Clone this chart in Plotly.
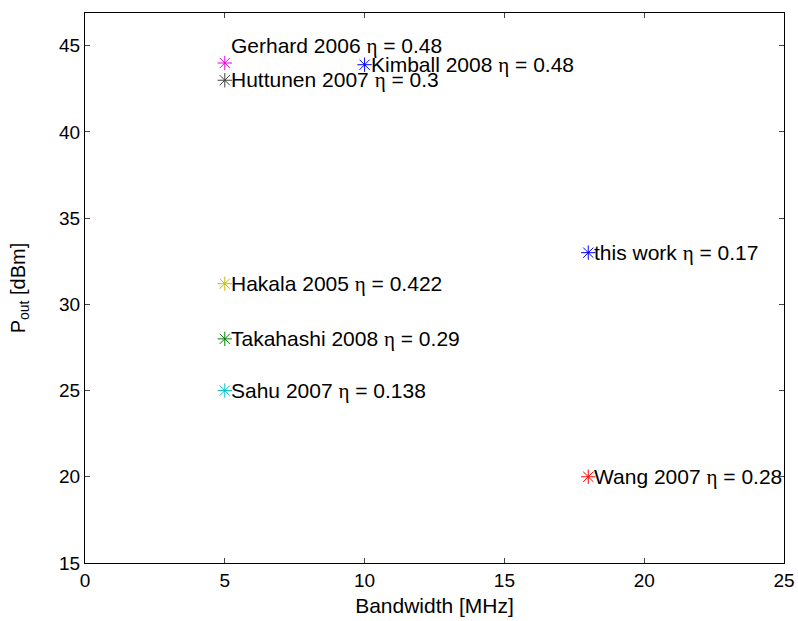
import plotly.graph_objects as go

# Data
names = ["Gerhard 2006", "Kimball 2008", "Huttunen 2007", "Hakala 2005",
         "Takahashi 2008", "Sahu 2007", "this work", "Wang 2007"]
bandwidth = [5, 10, 5, 5, 5, 5, 18, 18]
pout = [44, 43.9, 43, 31.2, 28, 25, 33, 20]
eff = ["0.48", "0.48", "0.3", "0.422", "0.29", "0.138", "0.17", "0.28"]
colors = ["#e000e0", "#0000ff", "#404040", "#bfbf00", "#008000", "#00bfbf", "#0000ff", "#ff0000"]
label_dy = {"Gerhard 2006": 1.0}

x_ticks = [0, 5, 10, 15, 20, 25]
y_ticks = [15, 20, 25, 30, 35, 40, 45]

fig = go.Figure()
for n, x, y, c in zip(names, bandwidth, pout, colors):
    fig.add_trace(go.Scatter(
        x=[x], y=[y], mode="markers", name=n,
        marker=dict(symbol="asterisk-open", size=12, color=c,
                    line=dict(color=c, width=1)),
        showlegend=False, hoverinfo="skip", cliponaxis=True))

ann = []
for n, x, y, e in zip(names, bandwidth, pout, eff):
    ann.append(dict(
        x=x, y=y + label_dy.get(n, 0.0), xref="x", yref="y",
        text=n + ' <span style="font-family:\'Liberation Serif\'">η</span> = ' + e,
        showarrow=False, xanchor="left", yanchor="middle", xshift=4,
        font=dict(family="Liberation Sans, Arial", size=21, color="black")))

fig.update_layout(
    width=798, height=621,
    margin=dict(l=85, r=14, t=13, b=58),
    paper_bgcolor="white", plot_bgcolor="white",
    font=dict(family="Liberation Sans, Arial", size=19, color="black"),
    annotations=ann,
    xaxis=dict(range=[0, 25], tickvals=x_ticks, ticks="inside", ticklen=5,
               showline=True, linecolor="black", linewidth=1, mirror="ticks",
               showgrid=False, zeroline=False, automargin=False,
               tickfont=dict(size=19),
               title=dict(text="Bandwidth [MHz]", font=dict(size=21), standoff=8)),
    yaxis=dict(range=[15, 46.9], tickvals=y_ticks, ticks="inside", ticklen=5,
               showline=True, linecolor="black", linewidth=1, mirror="ticks",
               showgrid=False, zeroline=False, automargin=False,
               tickfont=dict(size=19),
               title=dict(text="P<sub>out</sub> [dBm]", font=dict(size=20), standoff=28)),
)

fig.write_html("out.html")
